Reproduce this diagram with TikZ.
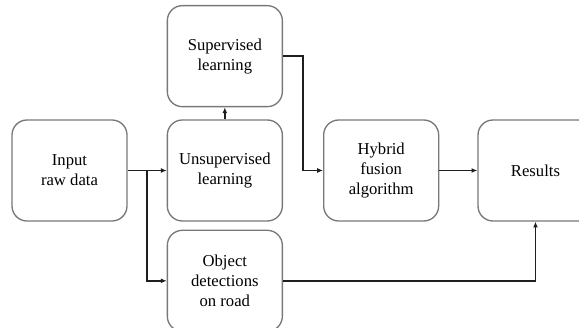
\documentclass[tikz,border=0pt]{standalone}
\usepackage{fontspec}
\setmainfont{Liberation Serif}
\usepackage{tikz}
\usetikzlibrary{arrows.meta,positioning}
\definecolor{flowGray}{RGB}{120,120,120}
\definecolor{flowLine}{RGB}{30,30,30}

\begin{document}
\begin{tikzpicture}[
  node distance=23.4pt,
  stage/.style={draw=flowGray, line width=0.8pt, rounded corners=9pt, fill=white, align=center,
    minimum width=69pt, minimum height=60.6pt, inner sep=2pt, font=\fontsize{10}{12}\selectfont},
  arr/.style={-{Latex[length=3.5pt,width=3pt]}, line width=1pt, draw=flowLine}
]
\useasboundingbox (0,0) rectangle (347.4pt,-196.8pt);
\node[stage] (input) at (41.7pt,-102.3pt) {Input\\raw data};
\node[stage, right=of input] (unsup) {Unsupervised\\learning};
\node[stage, above=7.2pt of unsup] (sup) {Supervised\\learning};
\node[stage, below=4.8pt of unsup] (object) {Object\\detections\\on road};
\node[stage, right=24pt of unsup] (hybrid) {Hybrid\\fusion\\algorithm};
\node[stage, right=22.8pt of hybrid] (results) {Results};
\draw[arr] (input) -- (unsup);
\draw[arr] (input.east) ++(11.4pt,0) coordinate (split) |- (object.west);
\draw[arr] (unsup) -- (sup);
\draw[arr] (sup.east) -- ++(12pt,0) |- (hybrid.west);
\draw[arr] (hybrid) -- (results);
\draw[arr] (object.east) -| (results.south);
\end{tikzpicture}
\end{document}
